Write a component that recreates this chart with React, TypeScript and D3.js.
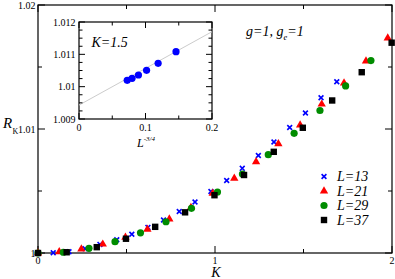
import React from "react";
import * as d3 from "d3";

// ---- main panel data: R_K vs K ----
const kL13 = [0, 0.086, 0.175, 0.266, 0.35, 0.445, 0.53, 0.621, 0.709, 0.798, 0.887, 0.977, 1.066, 1.154, 1.245, 1.333, 1.422, 1.511, 1.599, 1.688];
const rL13 = [1, 1.00002, 1.0001, 1.00035, 1.00069, 1.00107, 1.00151, 1.00206, 1.00266, 1.00335, 1.00411, 1.00496, 1.00585, 1.00683, 1.00786, 1.00895, 1.01012, 1.01129, 1.01252, 1.01381];

const kL21 = [0, 0.12, 0.245, 0.366, 0.494, 0.618, 0.742, 0.864, 0.987, 1.109, 1.232, 1.358, 1.481, 1.603, 1.729, 1.853, 1.976];
const rL21 = [1, 1.0001, 1.00032, 1.00071, 1.00127, 1.00191, 1.00274, 1.00367, 1.00481, 1.00603, 1.00736, 1.00881, 1.01032, 1.012, 1.01371, 1.01547, 1.01734];

const kL29 = [0, 0.143, 0.288, 0.435, 0.579, 0.723, 0.867, 1.014, 1.155, 1.301, 1.447, 1.593, 1.738, 1.881];
const rL29 = [1, 1.00006, 1.00038, 1.00091, 1.00163, 1.00252, 1.0036, 1.00492, 1.00637, 1.00793, 1.00965, 1.01149, 1.01347, 1.01552];

const kL37 = [0, 0.162, 0.332, 0.497, 0.662, 0.831, 0.997, 1.164, 1.332, 1.496, 1.662, 1.829, 1.998];
const rL37 = [1, 1.00006, 1.00047, 1.00115, 1.00211, 1.00328, 1.00466, 1.00629, 1.00816, 1.0101, 1.0123, 1.01458, 1.01696];

const legendLabels = ["L=13", "L=21", "L=29", "L=37"];

const xMajor = [0, 1, 2];
const xMinor = [0.5, 1.5];
const yMajor = [1, 1.01, 1.02];
const yMinor = [1.005, 1.015];
const xTickLabels = ["0", "1", "2"];
const yTickLabels = ["1", "1.01", "1.02"];

// ---- inset data: R_K at K=1.5 vs L^-3/4 ----
const insetX = [0.0725, 0.0798, 0.0894, 0.1016, 0.119, 0.1459];
const insetY = [1.010197, 1.010259, 1.010361, 1.010506, 1.010723, 1.011082];
const fitX = [0, 0.2];
const fitY = [1.00943, 1.0117];
const ixMajor = [0, 0.1, 0.2];
const ixMinor = [0.05, 0.15];
const ixLabels = ["0", "0.1", "0.2"];
const iyMajor = [1.009, 1.01, 1.011, 1.012];
const iyLabels = ["1.009", "1.01", "1.011", "1.012"];
const iyMinor = [1.00925, 1.0095, 1.00975, 1.01025, 1.0105, 1.01075, 1.01125, 1.0115, 1.01175];

const serif = "'Liberation Serif', 'Times New Roman', 'DejaVu Serif', serif";
const TS = { fontFamily: serif };

const BLUE = "#0000ff";
const RED = "#ff0000";
const GREEN = "#008c00";

function Marker({ kind, cx, cy }: { kind: number; cx: number; cy: number }) {
  if (kind === 0) {
    const s = 2.4;
    return (
      <path
        d={`M${cx - s},${cy - s}L${cx + s},${cy + s}M${cx - s},${cy + s}L${cx + s},${cy - s}`}
        stroke={BLUE}
        strokeWidth={1.6}
        fill="none"
      />
    );
  }
  if (kind === 1) {
    const p = d3.symbol(d3.symbolTriangle, 30)();
    return <path d={p || ""} transform={`translate(${cx},${cy})`} fill={RED} />;
  }
  if (kind === 2) {
    return <circle cx={cx} cy={cy} r={3.6} fill={GREEN} />;
  }
  return <rect x={cx - 3.2} y={cy - 3.2} width={6.4} height={6.4} fill="#000" />;
}

export default function App() {
  const W = 395;
  const H = 279;
  const x = d3.scaleLinear().domain([0, 2]).range([38, 392]);
  const y = d3.scaleLinear().domain([1, 1.02]).range([253, 5]);
  const ix = d3.scaleLinear().domain([0, 0.2]).range([79, 212]);
  const iy = d3.scaleLinear().domain([1.009, 1.012]).range([119, 22]);

  const series = [
    { k: kL13, r: rL13 },
    { k: kL21, r: rL21 },
    { k: kL29, r: rL29 },
    { k: kL37, r: rL37 },
  ];

  const [x0, x1] = x.range();
  const [y0, y1] = y.range();
  const [ix0, ix1] = ix.range();
  const [iy0, iy1] = iy.range();

  const fitLine = d3
    .line<number>()
    .x((_, i) => ix(fitX[i]))
    .y((_, i) => iy(fitY[i]))(fitX);

  const MAJ = 7;
  const MIN = 4;
  const IMAJ = 6;
  const IMIN = 3.5;

  return (
    <svg
      width={W}
      height={H}
      style={{ position: "absolute", left: 0, top: 0, background: "#fff", fontFamily: serif }}
    >
      <rect x={0} y={0} width={W} height={H} fill="#fff" />

      {/* main frame */}
      <rect x={x0} y={y1} width={x1 - x0} height={y0 - y1} fill="none" stroke="#000" strokeWidth={1.2} />

      {/* main ticks */}
      {xMajor.map((v) => (
        <g key={"xm" + v}>
          <line x1={x(v)} x2={x(v)} y1={y0} y2={y0 - MAJ} stroke="#000" strokeWidth={1} />
          <line x1={x(v)} x2={x(v)} y1={y1} y2={y1 + MAJ} stroke="#000" strokeWidth={1} />
        </g>
      ))}
      {xMinor.map((v) => (
        <g key={"xn" + v}>
          <line x1={x(v)} x2={x(v)} y1={y0} y2={y0 - MIN} stroke="#000" strokeWidth={1} />
          <line x1={x(v)} x2={x(v)} y1={y1} y2={y1 + MIN} stroke="#000" strokeWidth={1} />
        </g>
      ))}
      {yMajor.map((v) => (
        <g key={"ym" + v}>
          <line x1={x0} x2={x0 + MAJ} y1={y(v)} y2={y(v)} stroke="#000" strokeWidth={1} />
          <line x1={x1} x2={x1 - MAJ} y1={y(v)} y2={y(v)} stroke="#000" strokeWidth={1} />
        </g>
      ))}
      {yMinor.map((v) => (
        <g key={"yn" + v}>
          <line x1={x0} x2={x0 + MIN} y1={y(v)} y2={y(v)} stroke="#000" strokeWidth={1} />
          <line x1={x1} x2={x1 - MIN} y1={y(v)} y2={y(v)} stroke="#000" strokeWidth={1} />
        </g>
      ))}

      {/* main tick labels */}
      {xMajor.map((v, i) => (
        <text key={"xl" + v} x={x(v)} y={264} fontSize={10} textAnchor="middle" style={TS}>
          {xTickLabels[i]}
        </text>
      ))}
      {yMajor.map((v, i) => (
        <text key={"yl" + v} x={35.5} y={y(v) + 3.5} fontSize={10} textAnchor="end" style={TS}>
          {yTickLabels[i]}
        </text>
      ))}

      {/* axis titles */}
      <text x={216} y={277} fontSize={14} fontStyle="italic" textAnchor="middle" style={TS}>K</text>
      <text x={3} y={128} fontSize={15} fontStyle="italic" style={TS}>R</text>
      <text x={12.5} y={134} fontSize={8} style={TS}>K</text>

      {/* annotation */}
      <text x={246} y={36} fontSize={14} fontStyle="italic" style={TS}>
        g=1, g<tspan fontSize={8.5} dy={4}>e</tspan>
        <tspan dy={-4}>=1</tspan>
      </text>

      {/* data */}
      {series.map((s, si) => (
        <g key={"s" + si}>
          {s.k.map((kv, i) => (
            <Marker key={i} kind={si} cx={x(kv)} cy={y(s.r[i])} />
          ))}
        </g>
      ))}

      {/* legend */}
      {legendLabels.map((lab, i) => {
        const cy = 176.5 + i * 14.5;
        return (
          <g key={lab}>
            <Marker kind={i} cx={324} cy={cy} />
            <text x={337} y={cy + 4.8} fontSize={14} fontStyle="italic" style={TS}>
              {lab}
            </text>
          </g>
        );
      })}

      {/* inset */}
      <rect x={ix0} y={iy1} width={ix1 - ix0} height={iy0 - iy1} fill="#fff" stroke="#000" strokeWidth={1.2} />
      <path d={fitLine || ""} stroke="#cccccc" strokeWidth={1} fill="none" />
      {ixMajor.map((v) => (
        <g key={"ixm" + v}>
          <line x1={ix(v)} x2={ix(v)} y1={iy0} y2={iy0 - IMAJ} stroke="#000" strokeWidth={1} />
          <line x1={ix(v)} x2={ix(v)} y1={iy1} y2={iy1 + IMAJ} stroke="#000" strokeWidth={1} />
        </g>
      ))}
      {ixMinor.map((v) => (
        <g key={"ixn" + v}>
          <line x1={ix(v)} x2={ix(v)} y1={iy0} y2={iy0 - IMIN} stroke="#000" strokeWidth={1} />
          <line x1={ix(v)} x2={ix(v)} y1={iy1} y2={iy1 + IMIN} stroke="#000" strokeWidth={1} />
        </g>
      ))}
      {iyMajor.map((v) => (
        <g key={"iym" + v}>
          <line x1={ix0} x2={ix0 + IMAJ} y1={iy(v)} y2={iy(v)} stroke="#000" strokeWidth={1} />
          <line x1={ix1} x2={ix1 - IMAJ} y1={iy(v)} y2={iy(v)} stroke="#000" strokeWidth={1} />
        </g>
      ))}
      {iyMinor.map((v) => (
        <g key={"iyn" + v}>
          <line x1={ix0} x2={ix0 + IMIN} y1={iy(v)} y2={iy(v)} stroke="#000" strokeWidth={1} />
          <line x1={ix1} x2={ix1 - IMIN} y1={iy(v)} y2={iy(v)} stroke="#000" strokeWidth={1} />
        </g>
      ))}
      {ixMajor.map((v, i) => (
        <text key={"ixl" + v} x={ix(v)} y={131} fontSize={10} textAnchor="middle" style={TS}>
          {ixLabels[i]}
        </text>
      ))}
      {iyMajor.map((v, i) => (
        <text key={"iyl" + v} x={75.5} y={iy(v) + 3.5} fontSize={10} textAnchor="end" style={TS}>
          {iyLabels[i]}
        </text>
      ))}
      {insetX.map((v, i) => (
        <circle key={"ip" + i} cx={ix(v)} cy={iy(insetY[i])} r={3.6} fill={BLUE} />
      ))}
      <text x={91.5} y={46.5} fontSize={14} fontStyle="italic" style={TS}>K=1.5</text>
      <text x={137} y={147} fontSize={12} fontStyle="italic" style={TS}>
        L<tspan fontSize={7} dy={-6.5}>-3/4</tspan>
      </text>
    </svg>
  );
}
